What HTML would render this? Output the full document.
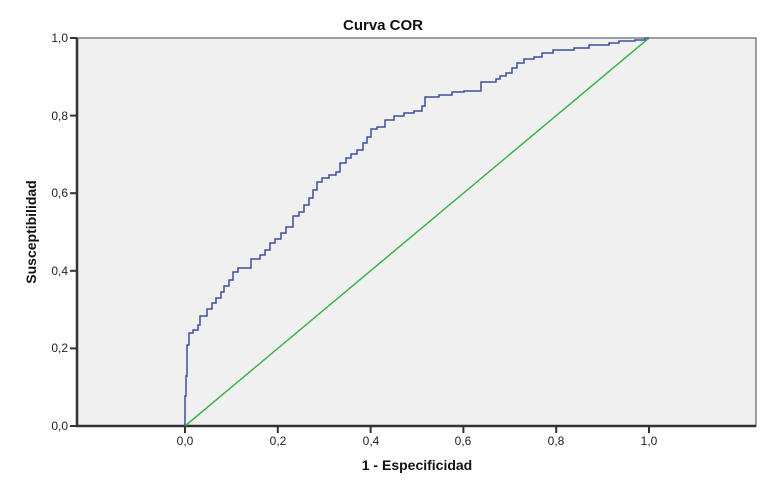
<!DOCTYPE html>
<html><head><style>
body{margin:0;background:#fff;}
svg{display:block;font-family:"Liberation Sans",Arial,sans-serif;}
</style></head><body>
<svg width="767" height="482" viewBox="0 0 767 482">
<rect x="0" y="0" width="767" height="482" fill="#fff"/>
<rect x="77" y="38" width="679" height="388" fill="#f0f0f0" stroke="#444" stroke-width="1"/>
<line x1="77" y1="38" x2="77" y2="427" stroke="#333" stroke-width="2.5"/>
<line x1="76" y1="426" x2="756" y2="426" stroke="#333" stroke-width="2.5"/>
<text x="383" y="30" font-size="15" font-weight="bold" text-anchor="middle" fill="#111">Curva COR</text>
<g stroke="#333" stroke-width="2">
<line x1="70" y1="426" x2="77" y2="426"/><line x1="70" y1="348.4" x2="77" y2="348.4"/>
<line x1="70" y1="270.8" x2="77" y2="270.8"/><line x1="70" y1="193.2" x2="77" y2="193.2"/>
<line x1="70" y1="115.6" x2="77" y2="115.6"/><line x1="70" y1="38" x2="77" y2="38"/>
<line x1="185" y1="426" x2="185" y2="433"/><line x1="277.8" y1="426" x2="277.8" y2="433"/>
<line x1="370.6" y1="426" x2="370.6" y2="433"/><line x1="463.4" y1="426" x2="463.4" y2="433"/>
<line x1="556.2" y1="426" x2="556.2" y2="433"/><line x1="649" y1="426" x2="649" y2="433"/>
</g>
<g font-size="12" fill="#222" text-anchor="end">
<text x="68" y="430">0,0</text><text x="68" y="352">0,2</text><text x="68" y="275">0,4</text>
<text x="68" y="197">0,6</text><text x="68" y="120">0,8</text><text x="68" y="42">1,0</text>
</g>
<g font-size="12" fill="#222" text-anchor="middle">
<text x="185" y="445">0,0</text><text x="278" y="445">0,2</text><text x="371" y="445">0,4</text>
<text x="463" y="445">0,6</text><text x="556" y="445">0,8</text><text x="649" y="445">1,0</text>
</g>
<text x="417" y="470" font-size="14" font-weight="bold" text-anchor="middle" fill="#111">1 - Especificidad</text>
<text transform="translate(36,232) rotate(-90)" font-size="14" font-weight="bold" text-anchor="middle" fill="#111">Susceptibilidad</text>
<line x1="185" y1="426" x2="649" y2="38" stroke="#3cb44b" stroke-width="1.5"/>
<polyline fill="none" stroke="#3f4fa0" stroke-width="1.5" points="185,426 185,396 186,396 186,376 187,376 187,345 189,345 189,333 193,333 193,330 198,330 198,325 200,325 200,316 207,316 207,309 212,309 212,303 216,303 216,298 221,298 221,292 224,292 224,286 229,286 229,280 233,280 233,272 238,272 238,268 251,268 251,259 260,259 260,255 265,255 265,250 270,250 270,243 275,243 275,239 281,239 281,233 286,233 286,227 293,227 293,216 299,216 299,212 304,212 304,205 309,205 309,198 313,198 313,190 317,190 317,182 322,182 322,178 329,178 329,175 336,175 336,172 340,172 340,163 346,163 346,158 351,158 351,154 357,154 357,150 363,150 363,143 367,143 367,137 371,137 371,129 377,129 377,127 385,127 385,120 394,120 394,116 404,116 404,113 414,113 414,111 422,111 422,106 425,106 425,97 439,97 439,95 452,95 452,92 464,92 464,91 481,91 481,82 496,82 496,79 500,79 500,76 506,76 506,73 512,73 512,68 517,68 517,63 524,63 524,59 534,59 534,57 542,57 542,53 553,53 553,50 574,50 574,48 589,48 589,45 609,45 609,43 619,43 619,41 635,41 635,40 645,40 645,38 649,38"/>
</svg>
</body></html>
